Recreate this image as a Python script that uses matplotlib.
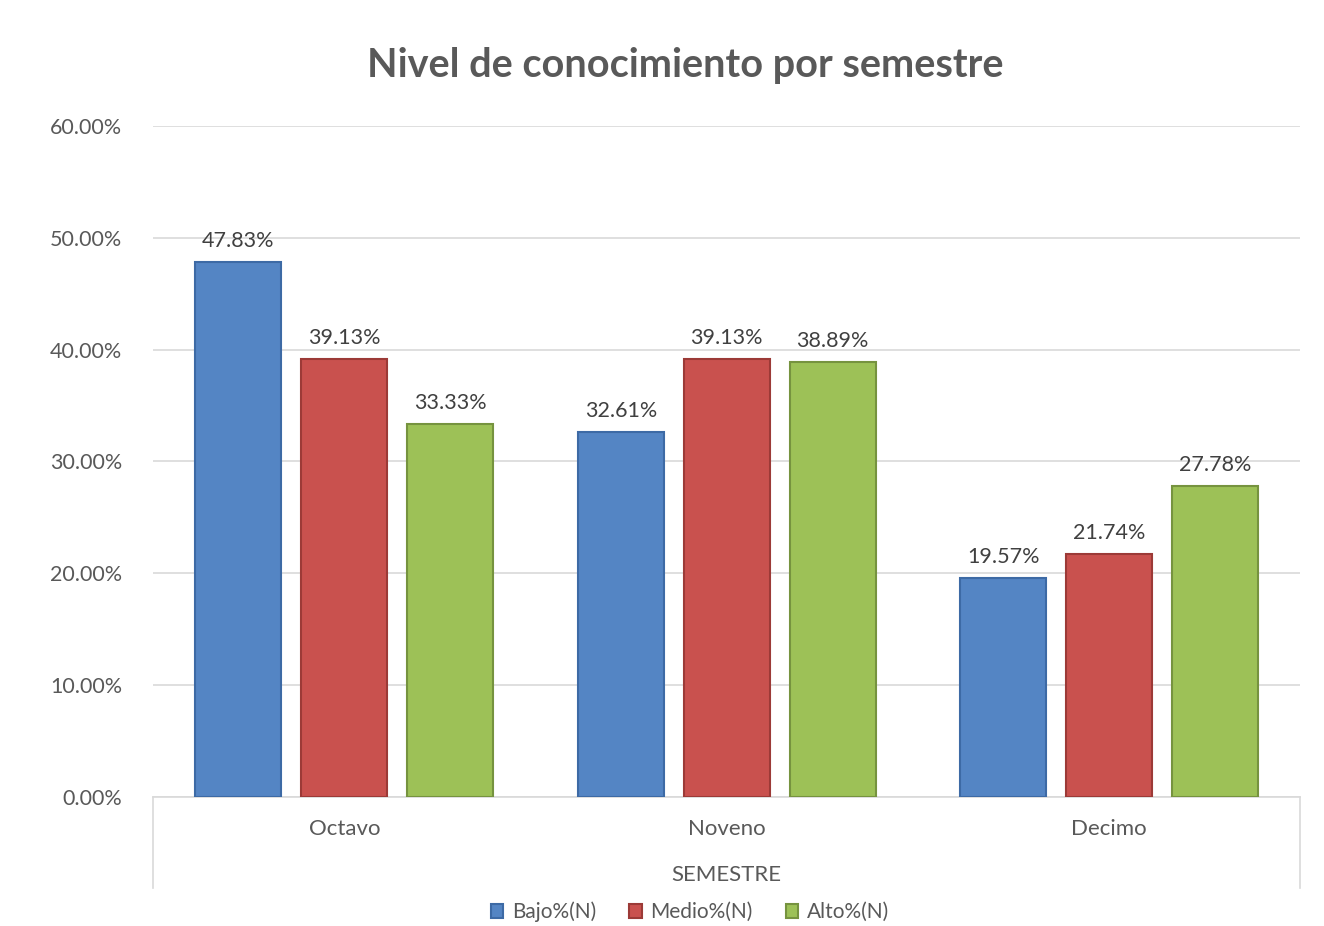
import numpy as np
import matplotlib
matplotlib.use("Agg")
import matplotlib.pyplot as plt
from matplotlib.lines import Line2D

categories = ["Octavo", "Noveno", "Decimo"]
series_names = ["Bajo%(N)", "Medio%(N)", "Alto%(N)"]
bajo = [47.83, 32.61, 19.57]
medio = [39.13, 39.13, 21.74]
alto = [33.33, 38.89, 27.78]
colors = ["#5485C4", "#C9514E", "#9DC157"]
edge_colors = ["#3D6AA5", "#9C3A37", "#76933F"]

plt.rcParams["font.family"] = ["Lato", "DejaVu Sans"]
text_color = "#595959"

fig = plt.figure(figsize=(13.24, 9.26), dpi=100)
ax = fig.add_axes([0.1156, 0.1393, 0.8666, 0.7247])

x = np.arange(len(categories))
width = 0.225
offsets = [-0.277, 0.0, 0.277]
for values, name, off, c, ec in zip([bajo, medio, alto], series_names, offsets, colors, edge_colors):
    bars = ax.bar(x + off, values, width, color=c, edgecolor=ec, linewidth=1.5, label=name, zorder=3)
    for b, v in zip(bars, values):
        ax.text(b.get_x() + b.get_width() / 2, v + 1.0, f"{v:.2f}%", ha="center", va="bottom",
                fontsize=15.5, color="#404040")

ax.set_xlim(-0.5, 2.5)
ax.set_ylim(0, 60)
ax.set_yticks(np.arange(0, 61, 10))
ax.set_yticklabels([f"{t:.2f}%" for t in np.arange(0, 61, 10)], fontsize=15.5, color=text_color)
ax.yaxis.grid(True, color="#D9D9D9", linewidth=1.2, zorder=0)
ax.tick_params(axis="y", length=0, pad=22)
ax.set_xticks([])
for s in ["top", "right", "left"]:
    ax.spines[s].set_visible(False)
ax.spines["bottom"].set_color("#D9D9D9")
ax.spines["bottom"].set_linewidth(1.2)

# multi-level category axis box
for xf in [153 / 1324, 1300 / 1324]:
    fig.add_artist(Line2D([xf, xf], [1 - 797 / 926, 1 - 888 / 926], color="#D9D9D9", lw=1.2))
for xi, cat in zip(x, categories):
    ax.text(xi, -2.9, cat, ha="center", va="center", fontsize=16, color=text_color)
fig.text(726 / 1324, 1 - 875 / 926, "SEMESTRE", ha="center", va="center", fontsize=16, color=text_color)

fig.text(685 / 1324, 1 - 66 / 926, "Nivel de conocimiento por semestre", ha="center", va="center",
         fontsize=28.5, fontweight="bold", color=text_color)

fig.legend(loc="center", bbox_to_anchor=(690 / 1324, 1 - 912 / 926), ncol=3, frameon=False,
           fontsize=15, handlelength=0.6, handleheight=0.6, columnspacing=1.6, handletextpad=0.4,
           labelcolor=text_color)

fig.savefig("out.png", dpi=100)
